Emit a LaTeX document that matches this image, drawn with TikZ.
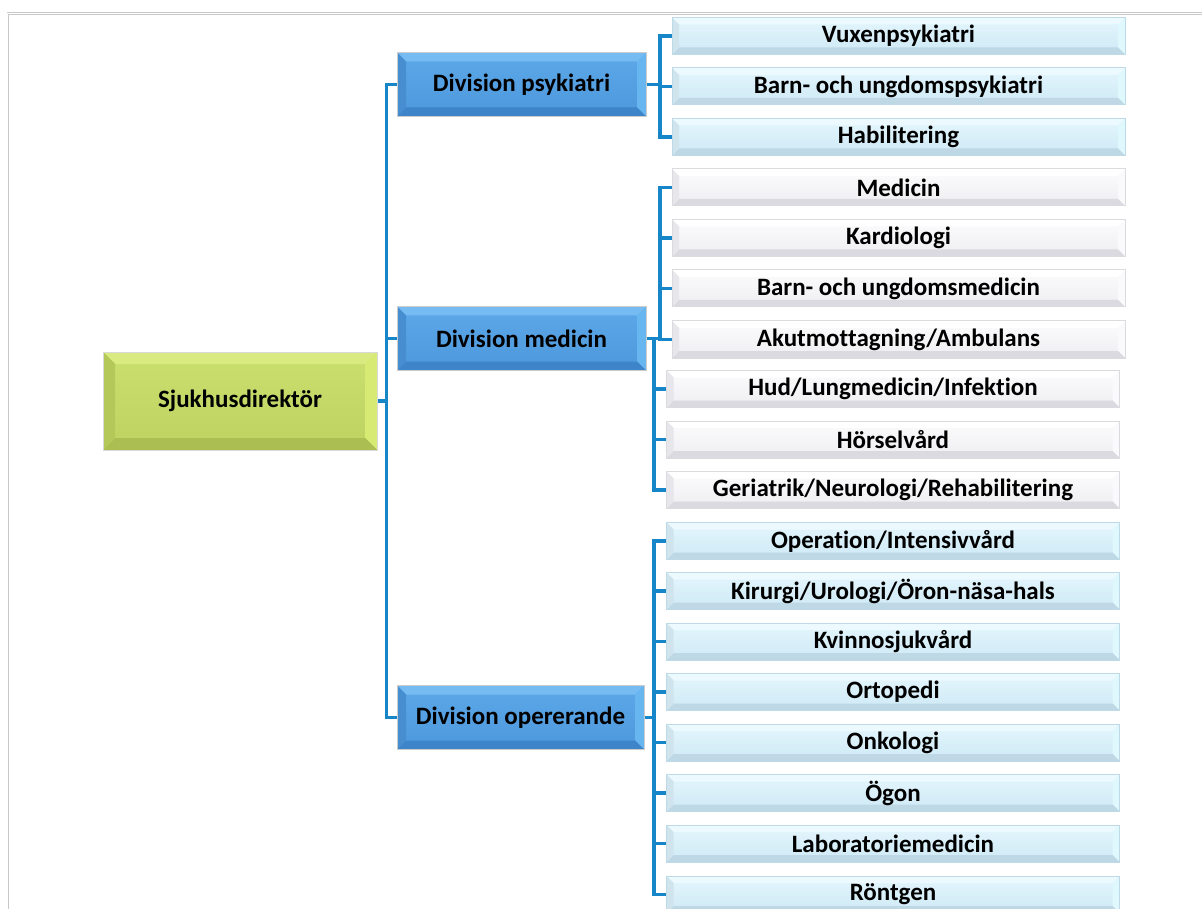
\documentclass[tikz,border=0pt]{standalone}
\usepackage{fontspec}
\setmainfont{Carlito}[Ligatures={NoCommon}]
\definecolor{connblue}{RGB}{22,134,200}
\definecolor{frame}{RGB}{200,200,200}
% division boxes
\definecolor{divT}{RGB}{92,168,232}
\definecolor{divB}{RGB}{76,152,220}
\definecolor{divBt}{RGB}{118,188,242}
\definecolor{divBr}{RGB}{104,182,240}
\definecolor{divBb}{RGB}{62,132,200}
\definecolor{divBl}{RGB}{70,142,208}
% director box
\definecolor{rootT}{RGB}{203,223,110}
\definecolor{rootB}{RGB}{190,210,98}
\definecolor{rootBt}{RGB}{216,234,128}
\definecolor{rootBr}{RGB}{214,234,116}
\definecolor{rootBb}{RGB}{170,190,82}
\definecolor{rootBl}{RGB}{180,200,90}
% light blue units
\definecolor{cyT}{RGB}{228,246,253}
\definecolor{cyB}{RGB}{206,233,245}
\definecolor{cyBt}{RGB}{236,250,255}
\definecolor{cyBr}{RGB}{222,248,253}
\definecolor{cyBb}{RGB}{190,216,229}
\definecolor{cyBl}{RGB}{208,228,238}
\definecolor{cyEdge}{RGB}{190,218,230}
% white units
\definecolor{whT}{RGB}{252,252,253}
\definecolor{whB}{RGB}{238,238,241}
\definecolor{whBt}{RGB}{255,255,255}
\definecolor{whBr}{RGB}{250,250,252}
\definecolor{whBb}{RGB}{218,218,224}
\definecolor{whBl}{RGB}{230,230,235}
\definecolor{whEdge}{RGB}{218,218,223}
\tikzset{
  conn/.style={draw=connblue, line width=3.5pt},
  bevel/.style n args={5}{
    path picture={
      \fill[#2] (path picture bounding box.north west) -- (path picture bounding box.north east)
        -- ([shift={(-#1pt,-#1pt)}]path picture bounding box.north east)
        -- ([shift={(#1pt,-#1pt)}]path picture bounding box.north west) -- cycle;
      \fill[#3] (path picture bounding box.north east) -- (path picture bounding box.south east)
        -- ([shift={(-#1pt,#1pt)}]path picture bounding box.south east)
        -- ([shift={(-#1pt,-#1pt)}]path picture bounding box.north east) -- cycle;
      \fill[#4] (path picture bounding box.south east) -- (path picture bounding box.south west)
        -- ([shift={(#1pt,#1pt)}]path picture bounding box.south west)
        -- ([shift={(-#1pt,#1pt)}]path picture bounding box.south east) -- cycle;
      \fill[#5] (path picture bounding box.south west) -- (path picture bounding box.north west)
        -- ([shift={(#1pt,-#1pt)}]path picture bounding box.north west)
        -- ([shift={(#1pt,#1pt)}]path picture bounding box.south west) -- cycle;
    }
  },
  boxtext/.style={font=\bfseries\fontsize{25}{29}\selectfont, text=black, inner sep=0pt},
  rootbox/.style={boxtext, minimum width=274pt, minimum height=98pt,
    top color=rootT, bottom color=rootB, draw=white!85!black, line width=1pt,
    bevel={12}{rootBt}{rootBr}{rootBb}{rootBl}},
  divbox/.style={boxtext, minimum width=249pt, minimum height=64pt,
    top color=divT, bottom color=divB, draw=white!80!black, line width=1pt,
    bevel={9}{divBt}{divBr}{divBb}{divBl}},
  cyunit/.style={boxtext, minimum width=453pt, minimum height=37pt,
    top color=cyT, bottom color=cyB, draw=cyEdge, line width=1pt,
    bevel={7}{cyBt}{cyBr}{cyBb}{cyBl}},
  whunit/.style={boxtext, minimum width=453pt, minimum height=37pt,
    top color=whT, bottom color=whB, draw=whEdge, line width=1pt,
    bevel={7}{whBt}{whBr}{whBb}{whBl}},
}
\begin{document}
\begin{tikzpicture}[x=1pt, y=-1pt]
  \useasboundingbox (0,0) rectangle (1202,909);
  % page frame
  \draw[frame, line width=1pt] (7,12.5) -- (1202,12.5);
  \draw[frame, line width=1pt] (8,14.5) -- (1202,14.5);
  \draw[frame, line width=1.2pt] (8.5,14) -- (8.5,909);

  % trunk positions
  \coordinate (tr) at (386.5,0);
  \coordinate (sa) at (660,0);
  \coordinate (sb) at (654,0);

  % director and divisions
  \node[rootbox] (root) at (240,401) {Sjukhusdirektör};
  \node[divbox] (psy) at (521.5,84.5) {Division psykiatri};
  \node[divbox] (med) at (521.5,338.5) {Division medicin};
  \node[divbox, minimum width=247pt] (ope) at (520.5,717.5) {Division opererande};

  % psychiatry units
  \node[cyunit] (p1) at (898.5,36) {Vuxenpsykiatri};
  \node[cyunit] (p2) at (898.5,86.5) {Barn- och ungdomspsykiatri};
  \node[cyunit] (p3) at (898.5,137) {Habilitering};

  % medicine units
  \node[whunit] (m1) at (898.5,187.5) {Medicin};
  \node[whunit] (m2) at (898.5,238) {Kardiologi};
  \node[whunit] (m3) at (898.5,288.5) {Barn- och ungdomsmedicin};
  \node[whunit] (m4) at (898.5,339.5) {Akutmottagning/Ambulans};
  \node[whunit] (m5) at (893,389) {Hud/Lungmedicin/Infektion};
  \node[whunit] (m6) at (893,439.5) {Hörselvård};
  \node[whunit] (m7) at (893,490) {Geriatrik/Neurologi/Rehabilitering};

  % surgical units
  \node[cyunit] (o1) at (893,541) {Operation/Intensivvård};
  \node[cyunit] (o2) at (893,591) {Kirurgi/Urologi/Öron-näsa-hals};
  \node[cyunit] (o3) at (893,641.5) {Kvinnosjukvård};
  \node[cyunit] (o4) at (893,692) {Ortopedi};
  \node[cyunit] (o5) at (893,742.5) {Onkologi};
  \node[cyunit] (o6) at (893,793) {Ögon};
  \node[cyunit] (o7) at (893,843.5) {Laboratoriemedicin};
  \node[cyunit] (o8) at (893,894.5) {Röntgen};

  % director to divisions
  \draw[conn] (root.east) -- (root.east -| tr);
  \draw[conn] (psy.west) -- (psy.west -| tr) -- (ope.west -| tr) -- (ope.west);
  \draw[conn] (med.west) -- (med.west -| tr);

  % psychiatry branch
  \draw[conn] (p1.west) -- (p1.west -| sa) -- (p3.west -| sa) -- (p3.west);
  \draw[conn] (p2.west) -- (p2.west -| sa);
  \draw[conn] (psy.east) -- (psy.east -| sa);

  % medicine branch
  \draw[conn] (m1.west) -- (m1.west -| sa) -- (m4.west -| sa) -- (m4.west);
  \draw[conn] (m2.west) -- (m2.west -| sa);
  \draw[conn] (m3.west) -- (m3.west -| sa);
  \draw[conn] (med.east) -- (med.east -| sa);
  \draw[conn] (med.east -| sb) -- (m7.west -| sb) -- (m7.west);
  \draw[conn] (m5.west) -- (m5.west -| sb);
  \draw[conn] (m6.west) -- (m6.west -| sb);

  % surgical branch
  \draw[conn] (o1.west) -- (o1.west -| sb) -- (o8.west -| sb) -- (o8.west);
  \foreach \u in {o2,o3,o4,o5,o6,o7}
    \draw[conn] (\u.west) -- (\u.west -| sb);
  \draw[conn] (ope.east) -- (ope.east -| sb);
\end{tikzpicture}
\end{document}
